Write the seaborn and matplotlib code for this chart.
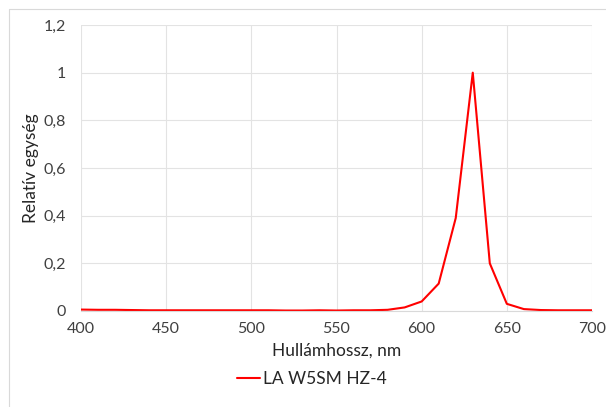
import numpy as np
import pandas as pd
import matplotlib
matplotlib.use("Agg")
import matplotlib.pyplot as plt
import seaborn as sns
from matplotlib.lines import Line2D

wavelength = list(range(400, 701, 10))
intensity = [0.006, 0.005, 0.005, 0.004, 0.003, 0.003, 0.003, 0.003, 0.003, 0.003,
             0.003, 0.003, 0.002, 0.002, 0.003, 0.002, 0.003, 0.003, 0.005, 0.015,
             0.04, 0.115, 0.39, 1.0, 0.2, 0.03, 0.008, 0.004, 0.003, 0.003, 0.003]
series_name = "LA W5SM HZ-4"
x_ticks = [400, 450, 500, 550, 600, 650, 700]
y_ticks = [0, 0.2, 0.4, 0.6, 0.8, 1.0, 1.2]
y_labels = ["0", "0,2", "0,4", "0,6", "0,8", "1", "1,2"]

df = pd.DataFrame({"wl": wavelength, "val": intensity, "series": series_name})

sns.set_style("white")
plt.rcParams['font.family'] = ['Lato', 'DejaVu Sans']

fig = plt.figure(figsize=(6.06, 4.07), dpi=100)
ax = fig.add_axes([81/606, 1-311/407, (592-81)/606, (311-25)/407])

sns.lineplot(data=df, x="wl", y="val", hue="series", palette=["#FF0000"],
             linewidth=1.5, ax=ax, legend=False)

ax.set_xlim(400, 700)
ax.set_ylim(0, 1.2)
ax.set_xticks(x_ticks)
ax.set_yticks(y_ticks)
ax.set_yticklabels(y_labels)
ax.grid(True, color="#e3e3e3", linewidth=0.8)
ax.set_axisbelow(True)
for s in ["top", "right", "left"]:
    ax.spines[s].set_visible(False)
ax.spines["bottom"].set_color("#d9d9d9")
ax.tick_params(axis="both", length=0, labelsize=11.5, colors="#404040")
ax.tick_params(axis="x", pad=8)
ax.tick_params(axis="y", pad=11)
ax.set_xlabel("Hullámhossz, nm", fontsize=12.5, color="#262626", labelpad=5)
ax.set_ylabel("Relatív egység", fontsize=12.5, color="#262626", labelpad=3)

handle = Line2D([0], [0], color="#FF0000", linewidth=1.5)
fig.legend([handle], [series_name], loc="center", bbox_to_anchor=(312/606, 1-379/407),
           frameon=False, fontsize=12.5, handlelength=1.3, handletextpad=0.2,
           labelcolor="#262626")

# outer chart border
fig.add_artist(Line2D([9/606, 1], [1-9/407, 1-9/407], transform=fig.transFigure,
                      color="#d9d9d9", linewidth=0.8))
fig.add_artist(Line2D([9/606, 9/606], [0, 1-9/407], transform=fig.transFigure,
                      color="#d9d9d9", linewidth=0.8))

fig.savefig("out.png", dpi=100, facecolor="white")
